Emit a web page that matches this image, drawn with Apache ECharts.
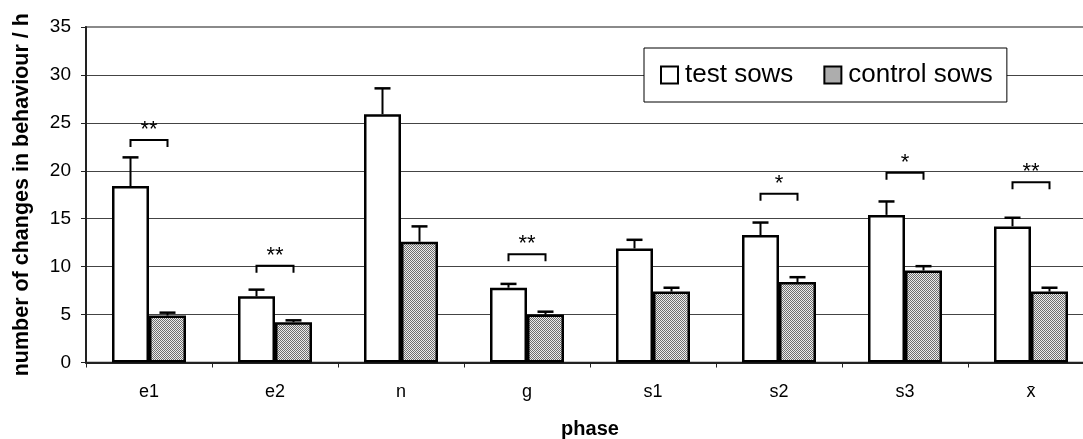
<!DOCTYPE html>
<html>
<head>
<meta charset="utf-8">
<script src="https://cdn.jsdelivr.net/npm/echarts@6/dist/echarts.min.js"></script>
<style>
html,body{margin:0;padding:0;background:#fff;overflow:hidden;width:1083px;height:439px;}
#chart{width:1094px;height:439px;}
</style>
</head>
<body>
<div id="chart"></div>
<script>
// ---- data ----
const categories = ['e1', 'e2', 'n', 'g', 's1', 's2', 's3', 'x\u0304'];
const testSows = [18.4, 6.9, 25.9, 7.8, 11.9, 13.3, 15.4, 14.2];
const testErr = [3.0, 0.7, 2.7, 0.4, 0.9, 1.3, 1.4, 0.9];
const controlSows = [4.9, 4.2, 12.6, 5.0, 7.4, 8.4, 9.6, 7.4];
const controlErr = [0.3, 0.2, 1.6, 0.3, 0.4, 0.5, 0.45, 0.4];
const bracketLevel = [23.2, 10.1, null, 11.3, null, 17.6, 19.8, 18.8];
const significance = ['**', '**', '', '**', '', '*', '*', '**'];
const yTicks = [0, 5, 10, 15, 20, 25, 30, 35];

// ---- styling helpers ----
const FONT = "'Liberation Sans', Arial, sans-serif";
const pat = document.createElement('canvas');
pat.width = 2; pat.height = 2;
const pctx = pat.getContext('2d');
pctx.fillStyle = '#ececec'; pctx.fillRect(0, 0, 2, 2);
pctx.fillStyle = '#6e6e6e'; pctx.fillRect(0, 0, 1, 1); pctx.fillRect(1, 1, 1, 1);
const controlFill = { image: pat, repeat: 'repeat' };

const OFF = 18.5 / 126; // bar center offset as fraction of category width

function errRender(sign) {
  return function (params, api) {
    const c = api.value(0), v = api.value(1), e = api.value(2);
    const w = api.size([1, 0])[0];
    const dx = sign * w * OFF;
    const p0 = api.coord([c, v]);
    const p1 = api.coord([c, v + e]);
    const x = p0[0] + dx;
    return {
      type: 'group',
      children: [
        { type: 'line', shape: { x1: x, y1: p0[1], x2: x, y2: p1[1] }, style: { stroke: '#000', lineWidth: 2 } },
        { type: 'line', shape: { x1: x - 8, y1: p1[1], x2: x + 8, y2: p1[1] }, style: { stroke: '#000', lineWidth: 2.5 } }
      ]
    };
  };
}

function bracketRender(params, api) {
  const c = api.value(0), lvl = api.value(1);
  const w = api.size([1, 0])[0];
  const p = api.coord([c, lvl]);
  const x1 = p[0] - w * OFF, x2 = p[0] + w * OFF, y = p[1];
  return {
    type: 'group',
    children: [
      { type: 'polyline', shape: { points: [[x1, y + 7], [x1, y], [x2, y], [x2, y + 7]] }, style: { stroke: '#000', lineWidth: 2, fill: null } },
      { type: 'text', style: { x: p[0], y: y + 1, text: significance[c], font: '22px ' + FONT, fill: '#000', align: 'center', verticalAlign: 'bottom' } }
    ]
  };
}

const errTestData = testSows.map((v, i) => [i, v, testErr[i]]);
const errCtrlData = controlSows.map((v, i) => [i, v, controlErr[i]]);
const bracketData = bracketLevel.map((v, i) => [i, v]).filter(d => d[1] !== null);

const chart = echarts.init(document.getElementById('chart'), null, { renderer: 'canvas' });
chart.setOption({
  animation: false,
  backgroundColor: '#fff',
  textStyle: { fontFamily: FONT, color: '#000' },
  grid: { left: 86, top: 27, right: 0, bottom: 76.5, outerBoundsMode: 'none', containLabel: false,
    show: true, borderColor: '#8a8a8a', borderWidth: 2, backgroundColor: 'transparent' },
  legend: {
    left: 644, top: 48,
    orient: 'horizontal',
    backgroundColor: '#fff',
    borderColor: '#000', borderWidth: 1,
    padding: [14, 14, 14, 16],
    itemWidth: 17, itemHeight: 17,
    itemGap: 30,
    icon: 'rect',
    textStyle: { fontSize: 26, color: '#000', fontFamily: FONT, padding: [0, 0, 0, 2] },
    data: ['test sows', 'control sows']
  },
  xAxis: {
    type: 'category',
    data: categories,
    name: 'phase',
    nameLocation: 'middle',
    nameGap: 57,
    nameTextStyle: { fontSize: 20, fontWeight: 'bold', color: '#000', fontFamily: FONT },
    axisLine: { lineStyle: { color: '#222', width: 2 } },
    axisTick: { show: true, length: 5, lineStyle: { color: '#222', width: 1 } },
    axisLabel: { fontSize: 18, color: '#000', margin: 21, fontFamily: FONT },
    splitLine: { show: false }
  },
  yAxis: {
    type: 'value',
    min: 0, max: 35, interval: 5,
    name: 'number of changes in behaviour / h',
    nameLocation: 'middle',
    nameGap: 53,
    nameTextStyle: { fontSize: 21.5, fontWeight: 'bold', color: '#000', fontFamily: FONT },
    axisLine: { show: true, lineStyle: { color: '#222', width: 2 } },
    axisTick: { show: true, length: 5, lineStyle: { color: '#222', width: 1 } },
    axisLabel: { fontSize: 19, color: '#000', margin: 15, fontFamily: FONT,
      formatter: v => yTicks.indexOf(v) >= 0 ? String(v) : '' },
    splitLine: { show: true, lineStyle: { color: ['#444', '#444', '#444', '#444', '#444', '#444', '#444', '#8a8a8a'], width: 1 } }
  },
  series: [
    {
      name: 'test sows', type: 'bar', data: testSows,
      barWidth: 37, barGap: '0%',
      itemStyle: { color: '#fff', borderColor: '#000', borderWidth: 2.5 },
      z: 3
    },
    {
      name: 'control sows', type: 'bar', data: controlSows,
      barWidth: 37, barGap: '0%',
      itemStyle: { color: controlFill, borderColor: '#000', borderWidth: 2.5 },
      z: 3
    },
    { type: 'custom', name: 'errTest', renderItem: errRender(-1), data: errTestData, z: 4, silent: true },
    { type: 'custom', name: 'errCtrl', renderItem: errRender(1), data: errCtrlData, z: 4, silent: true },
    { type: 'custom', name: 'brackets', renderItem: bracketRender, data: bracketData, z: 4, silent: true }
  ]
});
</script>
</body>
</html>
